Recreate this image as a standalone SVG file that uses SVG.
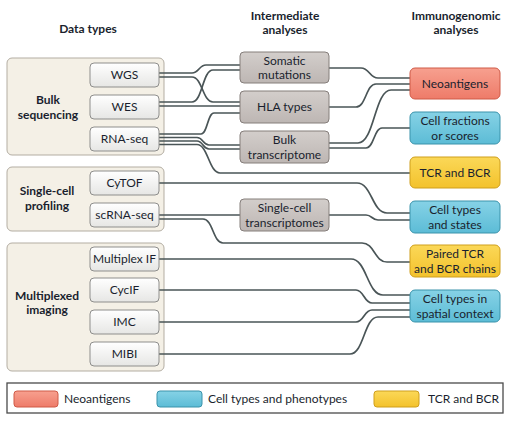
<svg xmlns="http://www.w3.org/2000/svg" width="512" height="430" viewBox="0 0 512 430">
<defs>
<linearGradient id="gIn" x1="0" y1="0" x2="0" y2="1"><stop offset="0" stop-color="#ffffff"/><stop offset="1" stop-color="#e6e6e4"/></linearGradient>
<linearGradient id="gMid" x1="0" y1="0" x2="0" y2="1"><stop offset="0" stop-color="#d3cecb"/><stop offset="1" stop-color="#bdb6b3"/></linearGradient>
<linearGradient id="gRed" x1="0" y1="0" x2="0" y2="1"><stop offset="0" stop-color="#f7a08f"/><stop offset="1" stop-color="#ee7b69"/></linearGradient>
<linearGradient id="gBlue" x1="0" y1="0" x2="0" y2="1"><stop offset="0" stop-color="#86d2e6"/><stop offset="1" stop-color="#5cbcd6"/></linearGradient>
<linearGradient id="gYel" x1="0" y1="0" x2="0" y2="1"><stop offset="0" stop-color="#fbd858"/><stop offset="1" stop-color="#f3c22c"/></linearGradient>
</defs>
<style>
text{font-family:Lato,"Open Sans","Liberation Sans",sans-serif;fill:#1a1f2e;font-size:12px;text-anchor:middle}
.t{font-weight:bold;font-size:12px}
.gl{font-weight:bold;font-size:12px}
.grp{fill:#f4f0e6;stroke:#b3ada2;stroke-width:1}
.in{fill:url(#gIn);stroke:#8e8e8c;stroke-width:1}
.mid{fill:url(#gMid);stroke:#857e7b;stroke-width:1}
.red{fill:url(#gRed);stroke:#cf5a47;stroke-width:1}
.blue{fill:url(#gBlue);stroke:#3a93ab;stroke-width:1}
.yel{fill:url(#gYel);stroke:#cf9f1c;stroke-width:1}
.lg{text-anchor:start}
#connectors path{fill:none;stroke:#4a5557;stroke-width:1.7}
</style>
<rect width="512" height="430" fill="#ffffff"/>

<g id="titles">
<text class="t" x="88" y="33">Data types</text>
<text class="t" x="285" y="19.5">Intermediate</text>
<text class="t" x="285" y="34">analyses</text>
<text class="t" x="456" y="19.5">Immunogenomic</text>
<text class="t" x="456" y="34">analyses</text>
</g>

<g id="group-bulk"><rect class="grp" x="7" y="58" width="157" height="97" rx="5"/><text class="gl" x="48" y="104">Bulk</text><text class="gl" x="48" y="118.5">sequencing</text></g>
<g id="group-singlecell"><rect class="grp" x="7" y="167" width="157" height="64" rx="5"/><text class="gl" x="47" y="195">Single-cell</text><text class="gl" x="47" y="209.5">profiling</text></g>
<g id="group-imaging"><rect class="grp" x="7" y="243" width="157" height="128" rx="5"/><text class="gl" x="47" y="299.5">Multiplexed</text><text class="gl" x="47" y="314">imaging</text></g>

<g id="connectors">
<path d="M159 73 H192 C199 73 199 65 206 65 H240"/>
<path d="M159 77 H192 C202.5 77 202.5 102 213 102 H240"/>
<path d="M159 102 H192 C202.5 102 202.5 70 213 70 H240"/>
<path d="M159 106 H240"/>
<path d="M159 134 H201 C207.5 134 207.5 113 214 113 H240"/>
<path d="M159 137.5 H197 C203 137.5 203 145 209 145 H240"/>
<path d="M159 141 H197 C203 141 203 149 209 149 H240"/>
<path d="M159 144.5 H197 C208 144.5 209 173 220 173 H410"/>
<path d="M329 68 H361 C369.5 68 369.5 78 378 78 H410"/>
<path d="M329 107 H356 C366 107 366 84 376 84 H410"/>
<path d="M329 143 H358 C374.5 143 374.5 90 391 90 H410"/>
<path d="M329 148 H366 C374 148 374 128 382 128 H410"/>
<path d="M159 183 H357 C372 183 372 213 387 213 H410"/>
<path d="M159 215 H240"/>
<path d="M159 219 H203 C213 219 213 243 223 243 H362 C374.5 243 374.5 262 387 262 H410"/>
<path d="M329 215 H366 C372 215 372 220 378 220 H410"/>
<path d="M159 259 H351 C367 259 367 295 383 295 H410"/>
<path d="M159 290 H356 C364 290 364 303 372 303 H410"/>
<path d="M159 322 H356 C364 322 364 310 372 310 H410"/>
<path d="M159 354 H350 C364 354 364 317 378 317 H410"/>
</g>

<g id="wgs"><rect class="in" x="90" y="63" width="69" height="24" rx="4"/><text x="124.5" y="79.3">WGS</text></g>
<g id="wes"><rect class="in" x="90" y="95" width="69" height="24" rx="4"/><text x="124.5" y="111.3">WES</text></g>
<g id="rnaseq"><rect class="in" x="90" y="127" width="69" height="24" rx="4"/><text x="124.5" y="143.3">RNA-seq</text></g>
<g id="cytof"><rect class="in" x="90" y="171" width="69" height="24" rx="4"/><text x="124.5" y="187.3">CyTOF</text></g>
<g id="scrnaseq"><rect class="in" x="90" y="203" width="69" height="24" rx="4"/><text x="124.5" y="219.3">scRNA-seq</text></g>
<g id="multiplexif"><rect class="in" x="90" y="247" width="69" height="24" rx="4"/><text x="124.5" y="263.3">Multiplex IF</text></g>
<g id="cycif"><rect class="in" x="90" y="278" width="69" height="24" rx="4"/><text x="124.5" y="294.3">CycIF</text></g>
<g id="imc"><rect class="in" x="90" y="310" width="69" height="24" rx="4"/><text x="124.5" y="326.3">IMC</text></g>
<g id="mibi"><rect class="in" x="90" y="342" width="69" height="24" rx="4"/><text x="124.5" y="358.3">MIBI</text></g>

<g id="somatic"><rect class="mid" x="240" y="52" width="89" height="31" rx="4"/><text x="284.5" y="64.5">Somatic</text><text x="284.5" y="79">mutations</text></g>
<g id="hla"><rect class="mid" x="240" y="91" width="89" height="32" rx="4"/><text x="284.5" y="111.3">HLA types</text></g>
<g id="bulktx"><rect class="mid" x="240" y="131" width="89" height="32" rx="4"/><text x="284.5" y="144">Bulk</text><text x="284.5" y="158.5">transcriptome</text></g>
<g id="sctx"><rect class="mid" x="240" y="199" width="89" height="32" rx="4"/><text x="284.5" y="212">Single-cell</text><text x="284.5" y="226.5">transcriptomes</text></g>

<g id="neoantigens"><rect class="red" x="410" y="68" width="90" height="31" rx="5"/><text x="455" y="87.8">Neoantigens</text></g>
<g id="cellfractions"><rect class="blue" x="410" y="112" width="90" height="32" rx="5"/><text x="455" y="125">Cell fractions</text><text x="455" y="139.5">or scores</text></g>
<g id="tcrbcr"><rect class="yel" x="410" y="157" width="90" height="31" rx="5"/><text x="455" y="176.8">TCR and BCR</text></g>
<g id="celltypes"><rect class="blue" x="410" y="201" width="90" height="32" rx="5"/><text x="455" y="214">Cell types</text><text x="455" y="228.5">and states</text></g>
<g id="pairedtcr"><rect class="yel" x="410" y="245" width="90" height="32" rx="5"/><text x="455" y="258">Paired TCR</text><text x="455" y="272.5">and BCR chains</text></g>
<g id="spatial"><rect class="blue" x="410" y="290" width="90" height="32" rx="5"/><text x="455" y="303">Cell types in</text><text x="455" y="317.5">spatial context</text></g>

<g id="legend">
<rect x="7" y="383" width="496" height="30" fill="#ffffff" stroke="#4a4a4a" stroke-width="1.3"/>
<rect class="red" x="14" y="391" width="44" height="16" rx="3"/><text class="lg" x="64" y="403.3">Neoantigens</text>
<rect class="blue" x="157" y="391" width="45" height="16" rx="3"/><text class="lg" x="208" y="403.3">Cell types and phenotypes</text>
<rect class="yel" x="374" y="391" width="45" height="16" rx="3"/><text class="lg" x="428" y="403.3">TCR and BCR</text>
</g>
</svg>
